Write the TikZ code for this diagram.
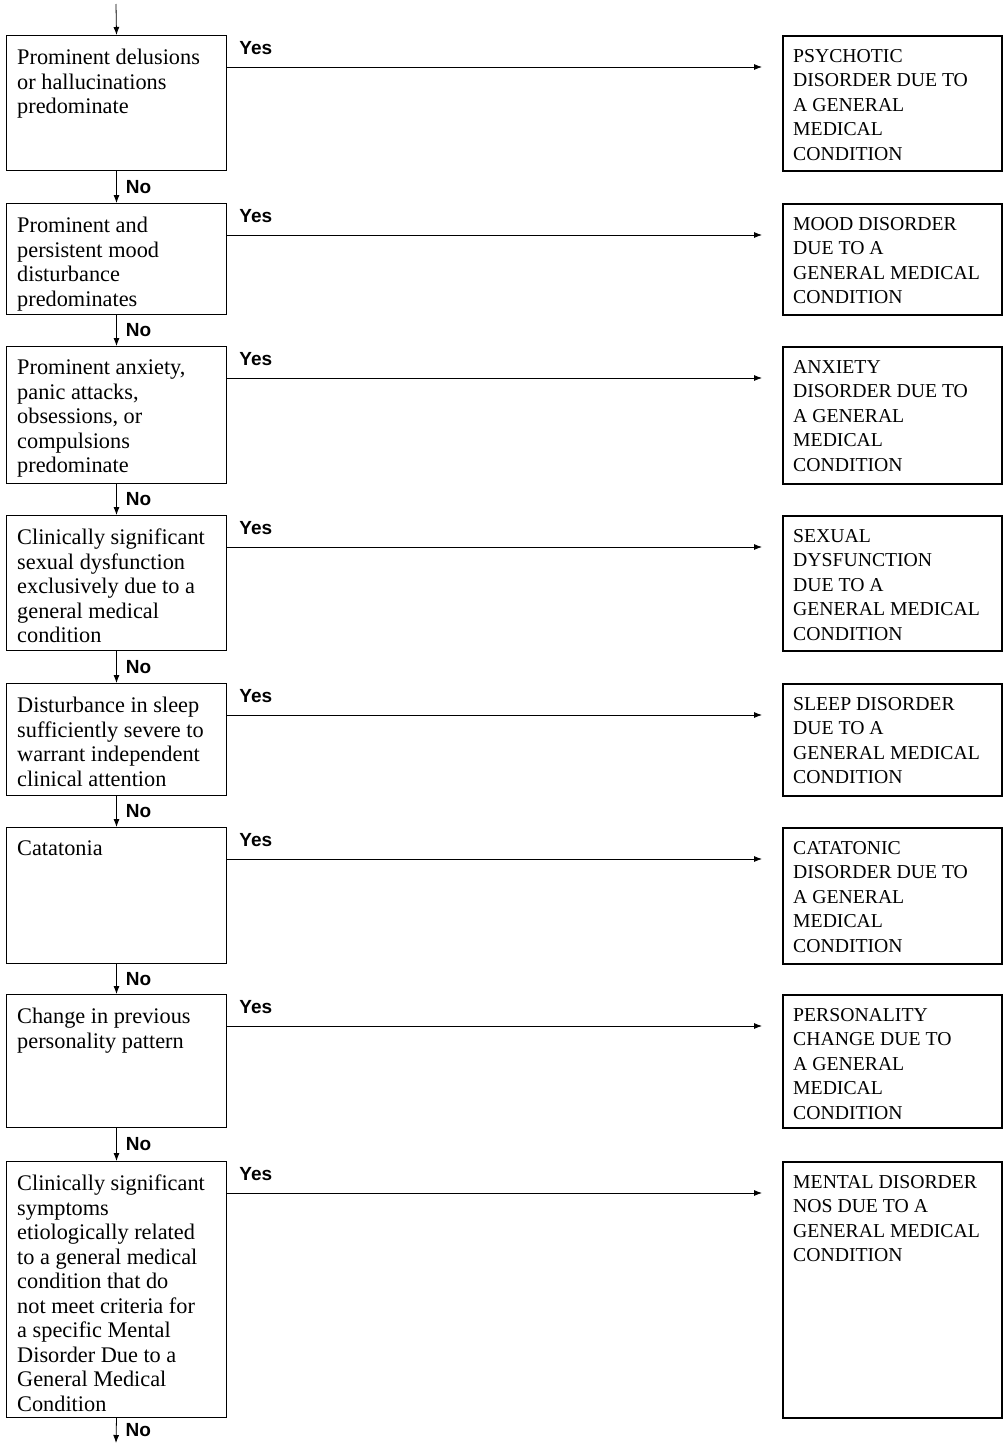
\documentclass[tikz,border=0pt]{standalone}
\usepackage{fontspec}
\setmainfont{Liberation Serif}
\newfontfamily\yesnofont{Liberation Sans}
\usetikzlibrary{arrows.meta}

\tikzset{
  qbox/.style={draw, line width=1pt, anchor=north west, minimum width=220pt, inner sep=0pt},
  dxbox/.style={draw, line width=1.7pt, anchor=north west, minimum width=219pt, inner sep=0pt},
  qtext/.style={anchor=north west, align=left, inner xsep=11pt, inner ysep=14pt,
    font=\fontsize{22.3}{24.5}\selectfont},
  dxtext/.style={anchor=north west, align=left, inner xsep=11pt, inner ysep=14pt,
    font=\fontsize{19.7}{24.5}\selectfont},
  flow/.style={line width=0.8pt, -{Latex[length=8pt,width=6pt]}},
  ans/.style={font=\yesnofont\bfseries\fontsize{19}{19}\selectfont, inner sep=0pt}
}

\begin{document}
\begin{tikzpicture}[x=1pt,y=-1pt]
\useasboundingbox (0,0) rectangle (1003,1446);

\foreach \i/\top/\h/\qtxt/\dtxt in {
  1/35/135/{Prominent delusions\\or hallucinations\\predominate}/{PSYCHOTIC\\DISORDER DUE TO\\A GENERAL\\MEDICAL\\CONDITION},
  2/203/111/{Prominent and\\persistent mood\\disturbance\\predominates}/{MOOD DISORDER\\DUE TO A\\GENERAL MEDICAL\\CONDITION},
  3/346/137/{Prominent anxiety,\\panic attacks,\\obsessions, or\\compulsions\\predominate}/{ANXIETY\\DISORDER DUE TO\\A GENERAL\\MEDICAL\\CONDITION},
  4/515/135/{Clinically significant\\sexual dysfunction\\exclusively due to a\\general medical\\condition}/{SEXUAL\\DYSFUNCTION\\DUE TO A\\GENERAL MEDICAL\\CONDITION},
  5/683/112/{Disturbance in sleep\\sufficiently severe to\\warrant independent\\clinical attention}/{SLEEP DISORDER\\DUE TO A\\GENERAL MEDICAL\\CONDITION},
  6/827/136/{Catatonia}/{CATATONIC\\DISORDER DUE TO\\A GENERAL\\MEDICAL\\CONDITION},
  7/994/133/{Change in previous\\personality pattern}/{PERSONALITY\\CHANGE DUE TO\\A GENERAL\\MEDICAL\\CONDITION},
  8/1161/256/{Clinically significant\\symptoms\\etiologically related\\to a general medical\\condition that do\\not meet criteria for\\a specific Mental\\Disorder Due to a\\General Medical\\Condition}/{MENTAL DISORDER\\NOS DUE TO A\\GENERAL MEDICAL\\CONDITION}}{
  \node[qbox, minimum height=\h pt, label={[qtext]north west:\qtxt}] (q\i) at (6,\top) {};
  \node[dxbox, minimum height=\h pt, label={[dxtext]north west:\dtxt}] (d\i) at (782,\top) {};
  \draw[flow, shorten >=20pt] ([yshift=-32pt]q\i.north east) -- ([yshift=-32pt]d\i.north west)
    node[ans, pos=0, anchor=base west, xshift=12pt, yshift=13pt] (y\i) {Yes};
}

% the No chain
\coordinate (start) at (116,4);
\coordinate (end) at (116,1443);
\draw[flow] (start) -- (q1.north);
\foreach \i in {1,...,7}{
  \pgfmathtruncatemacro\j{\i+1}
  \draw[flow] (q\i.south) -- (q\j.north) node[ans, midway, anchor=west, xshift=9pt] (n\i) {No};
}
\draw[flow] (q8.south) -- (end) node[ans, midway, anchor=west, xshift=9pt] (n8) {No};
\end{tikzpicture}
\end{document}
